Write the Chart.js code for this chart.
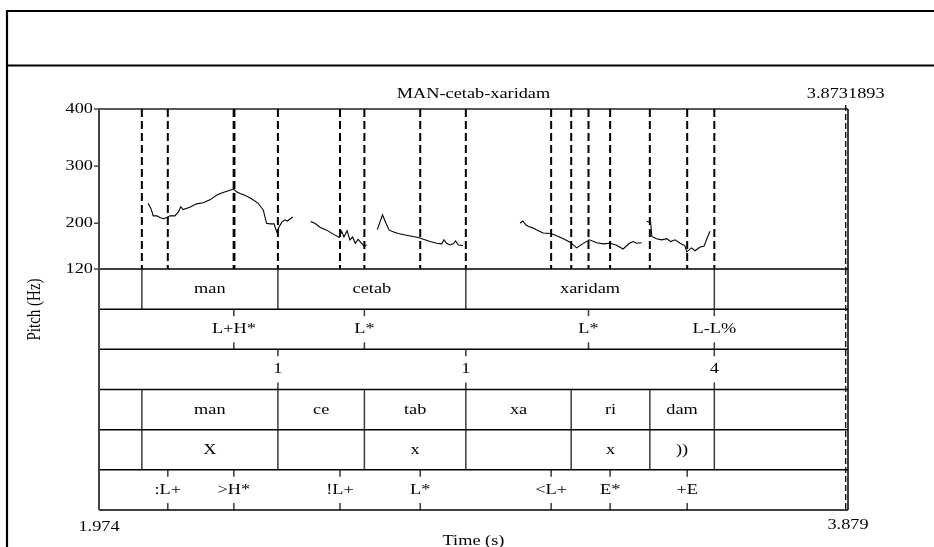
<!DOCTYPE html>
<html>
<head>
<meta charset="utf-8">
<script src="https://cdn.jsdelivr.net/npm/chart.js@4.4.0/dist/chart.umd.min.js"></script>
<style>
  html, body { margin: 0; padding: 0; background: #fff; }
  canvas { display: block; }
</style>
</head>
<body>
<canvas id="praatChart" width="934" height="547"></canvas>
<script>
// ---- time axis (s) ----
const timeMin = 1.974;
const timeMax = 3.879;
const endMarkTime = 3.8731893;
const chartTitle = 'MAN-cetab-xaridam';

// ---- pitch axis (Hz) ----
const pitchMin = 120;
const pitchMax = 400;
const pitchTicks = [120, 200, 300, 400];

// pitch track, null = unvoiced gap
const pitchTimes = [
  2.099, 2.106, 2.112, 2.121, 2.129, 2.138, 2.146, 2.155, 2.167, 2.176, 2.182, 2.188,
  2.205, 2.222, 2.239, 2.256, 2.273, 2.286, 2.303, 2.316, 2.324, 2.333, 2.345, 2.362,
  2.379, 2.392, 2.400, 2.409, 2.419, 2.426, 2.433, 2.439, 2.447, 2.453, 2.467,
  2.490,
  2.512, 2.523, 2.536, 2.553, 2.570, 2.585, 2.591, 2.597, 2.605, 2.612, 2.619, 2.626,
  2.633, 2.642, 2.648, 2.655,
  2.668,
  2.682, 2.689, 2.695, 2.704, 2.712, 2.722, 2.735, 2.756, 2.786, 2.799, 2.816, 2.833,
  2.846, 2.851, 2.858, 2.867, 2.875, 2.881, 2.888, 2.900,
  2.970,
  3.045, 3.052, 3.060, 3.068, 3.077, 3.085, 3.094, 3.104, 3.123, 3.138, 3.155, 3.172,
  3.189, 3.204, 3.221, 3.240, 3.256, 3.274, 3.289, 3.307, 3.323, 3.333, 3.341, 3.354,
  3.361,
  3.367, 3.377, 3.380, 3.392, 3.405, 3.418, 3.428, 3.439, 3.452, 3.464, 3.469, 3.481,
  3.490, 3.502, 3.513, 3.520, 3.528
];
const pitchHz = [
  235, 226, 213, 213, 210, 208, 210, 213, 213, 220, 229, 224,
  228, 234, 236, 241, 249, 253, 257, 260, 255, 252, 249, 243,
  235, 223, 200, 199, 199, 185, 195, 202, 206, 204, 211,
  null,
  203, 200, 193, 188, 181, 175, 186, 176, 187, 171, 176, 165,
  172, 165, 160, 162,
  null,
  189, 203, 215, 200, 188, 185, 182, 179, 175, 172, 168, 165,
  164, 171, 165, 162, 164, 169, 162, 161,
  null,
  200, 204, 197, 194, 192, 189, 186, 183, 182, 178, 173, 167,
  157, 164, 171, 166, 164, 165, 162, 155, 165, 168, 165, 166,
  null,
  203, 202, 177, 173, 171, 173, 168, 171, 165, 161, 150, 157,
  152, 158, 160, 173, 186
];

// dashed marks over the pitch track (boundaries + tone points)
const markTimes = [2.083, 2.149, 2.3165, 2.3185, 2.429, 2.587, 2.649, 2.791, 2.907,
  3.124, 3.175, 3.219, 3.274, 3.375, 3.470, 3.539];

// ---- tiers ----
const wordBounds = [2.083, 2.429, 2.907, 3.539];
const wordLabels = ['man', 'cetab', 'xaridam'];
const toneTimes = [2.317, 2.649, 3.219, 3.539];
const toneLabels = ['L+H*', 'L*', 'L*', 'L-L%'];
const breakTimes = [2.429, 2.907, 3.539];
const breakLabels = ['1', '1', '4'];
const syllBounds = [2.083, 2.429, 2.649, 2.907, 3.175, 3.375, 3.539];
const syllLabels = ['man', 'ce', 'tab', 'xa', 'ri', 'dam'];
const stressLabels = ['X', '', 'x', '', 'x', '))'];
const accentTimes = [2.149, 2.317, 2.587, 2.791, 3.124, 3.274, 3.470];
const accentLabels = [':L+', '>H*', '!L+', 'L*', '<L+', 'E*', '+E'];

const tiers = [
  { bounds: wordBounds, labels: wordLabels },
  { points: toneTimes, labels: toneLabels },
  { points: breakTimes, labels: breakLabels },
  { bounds: syllBounds, labels: syllLabels },
  { bounds: syllBounds, labels: stressLabels },
  { points: accentTimes, labels: accentLabels }
];

// text is horizontally stretched in the original picture
const SX = 1.22;
const FONT = '15px "Liberation Serif", "Times New Roman", serif';

function stretchedText(ctx, text, x, y, align) {
  ctx.save();
  ctx.translate(x, y);
  ctx.scale(SX, 1);
  ctx.font = FONT;
  ctx.fillStyle = '#000';
  ctx.textAlign = align || 'center';
  ctx.textBaseline = 'middle';
  ctx.fillText(text, 0, 0);
  ctx.restore();
}

function vline(ctx, px, y1, y2) {
  ctx.beginPath();
  ctx.moveTo(px, y1);
  ctx.lineTo(px, y2);
  ctx.stroke();
}

const praatPlugin = {
  id: 'praatTiers',
  beforeDraw(chart) {
    const ctx = chart.ctx;
    ctx.save();
    ctx.fillStyle = '#fff';
    ctx.fillRect(0, 0, chart.width, chart.height);
    // outer picture frame
    ctx.strokeStyle = '#000';
    ctx.lineWidth = 2.2;
    ctx.beginPath();
    ctx.moveTo(7, 11); ctx.lineTo(chart.width, 11);
    ctx.moveTo(7, 65.5); ctx.lineTo(chart.width, 65.5);
    ctx.moveTo(7, 10); ctx.lineTo(7, chart.height);
    ctx.stroke();
    ctx.restore();
  },
  beforeDatasetsDraw(chart) {
    const ctx = chart.ctx;
    const a = chart.chartArea;
    const xs = chart.scales.x, ys = chart.scales.y, ts = chart.scales.tier;
    ctx.save();

    tiers.forEach((tier, i) => {
      const top = ts.getPixelForValue(i);
      const bot = ts.getPixelForValue(i + 1);
      const mid = (top + bot) / 2;
      ctx.strokeStyle = '#3a3a3a';
      ctx.lineWidth = 1.5;
      if (tier.bounds) {
        tier.bounds.forEach(b => vline(ctx, xs.getPixelForValue(b), top, bot));
        tier.labels.forEach((lab, k) => {
          if (!lab) return;
          const cx = (xs.getPixelForValue(tier.bounds[k]) + xs.getPixelForValue(tier.bounds[k + 1])) / 2;
          stretchedText(ctx, lab, cx, mid);
        });
      } else {
        tier.points.forEach((p, k) => {
          const px = xs.getPixelForValue(p);
          vline(ctx, px, top, top + 7);
          vline(ctx, px, bot - 7, bot);
          stretchedText(ctx, tier.labels[k], px, mid);
        });
      }
    });

    // tier separators
    ctx.strokeStyle = '#000';
    ctx.lineWidth = 1.5;
    for (let i = 0; i <= tiers.length; i++) {
      const py = ts.getPixelForValue(i);
      ctx.beginPath();
      ctx.moveTo(a.left, py);
      ctx.lineTo(a.right, py);
      ctx.stroke();
    }
    // top of pitch box
    const pTop = ys.getPixelForValue(pitchMax);
    ctx.strokeStyle = '#222';
    ctx.beginPath();
    ctx.moveTo(a.left, pTop);
    ctx.lineTo(a.right, pTop);
    ctx.stroke();
    // left axis and right border
    ctx.strokeStyle = '#444';
    ctx.lineWidth = 2;
    vline(ctx, a.left, pTop, a.bottom);
    ctx.lineWidth = 1.5;
    ctx.strokeStyle = '#000';
    vline(ctx, a.right, pTop, a.bottom);

    // pitch ticks + labels
    ctx.strokeStyle = '#444';
    ctx.lineWidth = 1.5;
    pitchTicks.forEach(v => {
      const py = ys.getPixelForValue(v);
      ctx.beginPath();
      ctx.moveTo(a.left - 5, py);
      ctx.lineTo(a.left, py);
      ctx.stroke();
      stretchedText(ctx, String(v), a.left - 6, py, 'right');
    });

    // titles and range labels
    stretchedText(ctx, chartTitle, (a.left + a.right) / 2, a.top - 15);
    stretchedText(ctx, String(endMarkTime), xs.getPixelForValue(endMarkTime), a.top - 15);
    stretchedText(ctx, timeMin.toFixed(3), xs.getPixelForValue(timeMin), a.bottom + 17);
    stretchedText(ctx, timeMax.toFixed(3), xs.getPixelForValue(timeMax), a.bottom + 15);
    stretchedText(ctx, 'Time (s)', (a.left + a.right) / 2, a.bottom + 31);

    // rotated y title
    ctx.save();
    ctx.translate(a.left - 64, (a.top + a.bottom) / 2);
    ctx.rotate(-Math.PI / 2);
    ctx.scale(1, SX);
    ctx.font = FONT;
    ctx.fillStyle = '#000';
    ctx.textAlign = 'center';
    ctx.textBaseline = 'middle';
    ctx.fillText('Pitch (Hz)', 0, 0);
    ctx.restore();

    ctx.restore();
  }
};

// build line data from the arrays
const pitchPoints = pitchTimes.map((t, i) => ({ x: t, y: pitchHz[i] }));
const markPoints = [];
markTimes.forEach(t => {
  markPoints.push({ x: t, y: pitchMax }, { x: t, y: pitchMin }, { x: t, y: null });
});

new Chart(document.getElementById('praatChart'), {
  type: 'line',
  data: {
    datasets: [
      {
        label: 'marks',
        data: markPoints,
        yAxisID: 'y',
        borderColor: '#000',
        borderWidth: 2,
        borderDash: [8, 4],
        pointRadius: 0,
        spanGaps: false
      },
      {
        label: 'end mark (pitch)',
        data: [{ x: endMarkTime, y: 407 }, { x: endMarkTime, y: pitchMin }],
        yAxisID: 'y',
        borderColor: '#000',
        borderWidth: 1.3,
        borderDash: [6, 3],
        pointRadius: 0,
        clip: false
      },
      {
        label: 'end mark (tiers)',
        data: [{ x: endMarkTime, y: 0 }, { x: endMarkTime, y: tiers.length }],
        yAxisID: 'tier',
        borderColor: '#000',
        borderWidth: 1.3,
        borderDash: [6, 3],
        pointRadius: 0
      },
      {
        label: 'Pitch (Hz)',
        data: pitchPoints,
        yAxisID: 'y',
        borderColor: '#000',
        borderWidth: 1.1,
        pointRadius: 0,
        tension: 0,
        spanGaps: false
      }
    ]
  },
  options: {
    responsive: false,
    animation: false,
    devicePixelRatio: 1,
    layout: { padding: { left: 99, right: 86, top: 109, bottom: 37 } },
    plugins: { legend: { display: false }, tooltip: { enabled: false } },
    scales: {
      x: { type: 'linear', min: timeMin, max: timeMax, display: false },
      // left-stacked boxes are placed in reverse order, so the tier scale comes first
      tier: { type: 'linear', position: 'left', min: 0, max: tiers.length, reverse: true, display: false,
              stack: 'praat', stackWeight: 241 },
      y: { type: 'linear', position: 'left', min: pitchMin, max: pitchMax, display: false,
           stack: 'praat', stackWeight: 160 }
    }
  },
  plugins: [praatPlugin]
});
</script>
</body>
</html>
